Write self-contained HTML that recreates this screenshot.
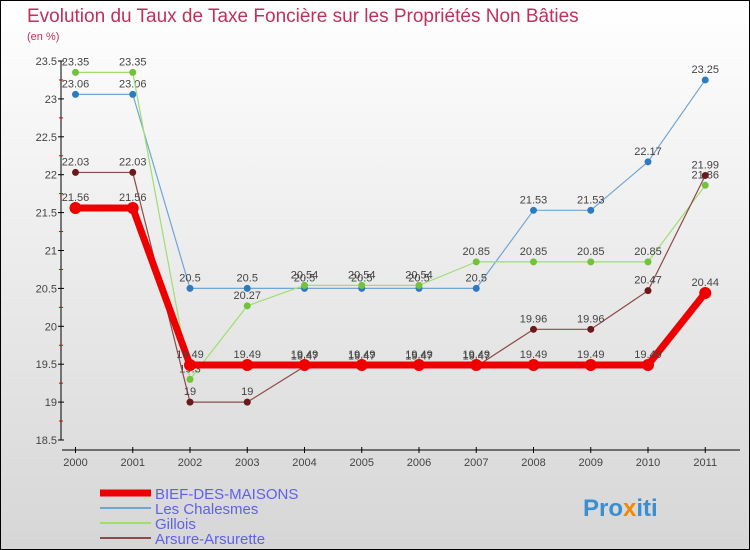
<!DOCTYPE html>
<html><head><meta charset="utf-8"><style>
body{margin:0}
#c{width:750px;height:550px;position:relative;box-sizing:border-box;border:1px solid #000;background:linear-gradient(#fff,#d6d6d6);font-family:"Liberation Sans",sans-serif;overflow:hidden}
</style></head><body>
<div id="c">
<svg id="s" width="750" height="550" style="position:absolute;left:-1px;top:-1px" font-family="Liberation Sans, sans-serif">
<text x="27" y="22" font-size="19" fill="#c0305a">Evolution du Taux de Taxe Foncière sur les Propriétés Non Bâties</text>
<text x="27" y="40" font-size="11" fill="#c0305a">(en %)</text>
<g id="axes"></g><g id="series"></g><g id="legend"></g>
<text x="583" y="516" font-size="24" font-weight="bold" fill="#3a8fd0">Pro<tspan fill="#f08a00">x</tspan>iti</text>
</svg></div>
<script>
const years=[2000,2001,2002,2003,2004,2005,2006,2007,2008,2009,2010,2011];
const yTicks=[18.5,19,19.5,20,20.5,21,21.5,22,22.5,23,23.5];
const names=["BIEF-DES-MAISONS","Les Chalesmes","Gillois","Arsure-Arsurette"];
const bief=[21.56,21.56,19.49,19.49,19.49,19.49,19.49,19.49,19.49,19.49,19.49,20.44];
const chalesmes=[23.06,23.06,20.5,20.5,20.5,20.5,20.5,20.5,21.53,21.53,22.17,23.25];
const gillois=[23.35,23.35,19.3,20.27,20.54,20.54,20.54,20.85,20.85,20.85,20.85,21.86];
const arsure=[22.03,22.03,19,19,19.47,19.47,19.47,19.47,19.96,19.96,20.47,21.99];
const NS="http://www.w3.org/2000/svg";
const X=i=>75.5+i*57.25, Y=v=>440-(v-18.5)*75.8;
function mk(p,t,a){const e=document.createElementNS(NS,t);for(const k in a)e.setAttribute(k,a[k]);p.appendChild(e);return e;}
const ax=document.getElementById('axes');
let l=mk(ax,'line',{x1:61,y1:Y(23.5),x2:61,y2:440,stroke:'#000'});


l=mk(ax,'line',{x1:62,y1:450,x2:740,y2:450,stroke:'#000'});


yTicks.forEach((v,i)=>{
 mk(ax,'line',{x1:58,x2:64,y1:Y(v),y2:Y(v),stroke:'#000'});
 if(i<yTicks.length-1)mk(ax,'line',{x1:59,x2:63,y1:Y(v+0.25),y2:Y(v+0.25),stroke:'#d00'});
 const t=mk(ax,'text',{x:57,y:Y(v)+4,'font-size':11,'text-anchor':'end',fill:'#444'});
 t.textContent=v;
 
 
});
years.forEach((y,i)=>{
 mk(ax,'line',{x1:X(i),x2:X(i),y1:447,y2:453,stroke:'#000'});
 const t=mk(ax,'text',{x:X(i),y:466,'font-size':11,'text-anchor':'middle',fill:'#444'});
 t.textContent=y;
 
 
});
const sg=document.getElementById('series');
const defs=[[chalesmes,'#6fa6d6','#2d7bbf',1.2,3.5,'chalesmes'],[gillois,'#9ede72','#72c23a',1.2,3.5,'gillois'],[arsure,'#8c4a4a','#6a1a1a',1.2,3.5,'arsure'],[bief,'#ee0000','#ee0000',7,6,'bief']];
defs.forEach(([d,lc,pc,w,r,n])=>{
 const p=mk(sg,'polyline',{points:d.map((v,i)=>X(i)+','+Y(v)).join(' '),fill:'none',stroke:lc,'stroke-width':w,'stroke-linejoin':'round'});
 
 
 d.forEach((v,i)=>{
  const c=mk(sg,'circle',{cx:X(i),cy:Y(v),r:r,fill:pc});
  
  
  const t=mk(sg,'text',{x:X(i),y:Y(v)-7,'font-size':11,'text-anchor':'middle',fill:'#444'});
  t.textContent=v;
  
  
 });
});
const lg=document.getElementById('legend');
const lcol=['#ee0000','#6fa6d6','#9ede72','#8c4a4a'],lw=[7,2,2,2];
names.forEach((n,i)=>{
 const y=493+i*15;
 const ln=mk(lg,'line',{x1:100,x2:151,y1:y,y2:y,stroke:lcol[i],'stroke-width':lw[i]});
 
 
 const t=mk(lg,'text',{x:155,y:y+6,'font-size':15,fill:'#6060ee'});
 t.textContent=n;
 
 
});
</script>
</body></html>
